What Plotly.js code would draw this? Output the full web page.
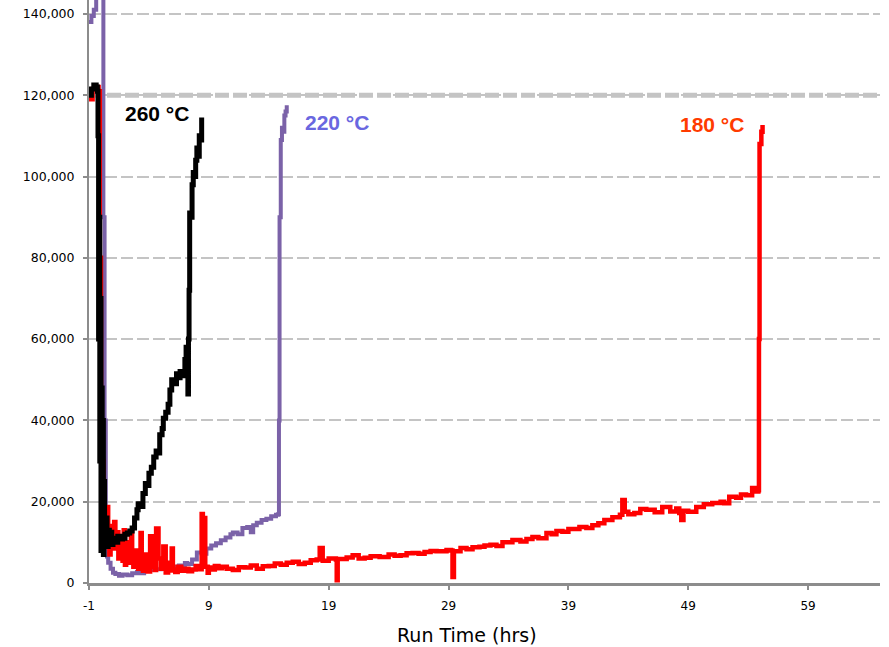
<!DOCTYPE html>
<html><head><meta charset="utf-8">
<script src="https://cdn.plot.ly/plotly-3.0.1.min.js"></script>
<style>html,body{margin:0;padding:0;background:#fff}#chart{width:889px;height:647px}</style>
</head><body><div id="chart"></div>
<script>
// 260°C series
const x260 = [-1.0,-0.8,-0.6,-0.4,-0.3,-0.25,-0.2,-0.15,-0.1,-0.05,0.0,0.05,0.1,0.15,0.2,0.25,0.3,0.4,0.5,0.6,0.7,0.8,0.9,1.0,1.2,1.4,1.6,1.8,2.0,2.2,2.4,2.6,2.8,3.0,3.1,3.3,3.5,3.7,3.8,4.0,4.2,4.4,4.6,4.7,4.9,5.1,5.2,5.4,5.6,5.75,5.9,6.1,6.3,6.5,6.6,6.8,7.0,7.1,7.2,7.25,7.3,7.35,7.4,7.5,7.6,7.7,7.8,7.9,8.0,8.1,8.2,8.3,8.4];
const y260 = [120000,121500,122500,122000,121000,110000,60000,90000,30000,70000,8000,48000,15000,40000,7000,25000,12000,16000,9000,13000,10500,12500,9500,11000,10000,11500,10800,11000,12000,12300,12800,13500,16000,18000,19500,18800,22000,24500,24000,27000,28500,31000,32500,32000,36500,38000,40500,42000,44000,47500,50000,49000,51500,50500,52000,51000,55000,58000,57000,46500,60000,72000,91000,90000,98000,101000,100000,104000,107000,105000,110000,109000,114500];

// 220°C series
const x220 = [-1.0,-0.8,-0.6,-0.4,-0.2,0.0,0.1,0.2,0.3,0.4,0.5,0.6,0.8,1.0,1.2,1.5,1.8,2.2,2.6,3.0,3.3,3.6,4.0,4.5,5.0,5.5,6.0,6.5,7.0,7.2,7.6,8.0,8.4,8.8,9.2,9.6,10.0,10.4,10.8,11.0,11.4,11.8,12.2,12.5,12.7,13.0,13.4,13.8,14.2,14.6,14.8,14.85,14.9,15.0,15.1,15.2,15.3,15.4,15.5];
const y220 = [138000,139500,141000,155000,155000,155000,150000,90000,40000,12000,6500,5000,3500,2500,2200,1800,2100,1900,2400,2700,2400,3000,3200,3400,3700,3500,4000,4300,4900,4700,5800,7500,7200,8500,9200,9800,10500,11200,12000,12400,12000,13500,13800,12500,14200,14800,15500,15800,16400,16800,17000,40000,90000,109000,112000,111000,115000,116000,117500];

// 180°C series
const x180 = [-1.0,-0.7,-0.4,-0.2,-0.1,0.0,0.2,0.4,0.5,0.6,0.7,0.8,1.0,1.1,1.2,1.35,1.45,1.6,1.8,1.9,2.0,2.1,2.3,2.5,2.6,2.7,2.9,3.1,3.3,3.4,3.5,3.7,3.9,4.1,4.3,4.5,4.6,4.8,5.0,5.2,5.4,5.6,5.8,5.9,6.0,6.2,6.4,6.7,7.0,7.3,7.6,7.9,8.2,8.4,8.5,8.7,8.9,9.0,9.2,9.5,9.8,10.1,10.5,11.0,11.5,12.0,12.5,13.0,13.5,14.0,14.5,15.0,15.5,16.0,16.5,17.0,17.5,18.0,18.25,18.5,19.0,19.6,19.67,19.75,20.5,21.0,21.5,22.0,22.5,23.25,24.0,24.5,25.0,25.5,26.0,26.5,27.0,27.5,28.0,28.83,29.2,29.33,29.45,30.0,30.5,31.0,31.58,32.0,32.5,33.0,33.5,34.33,35.0,35.5,36.0,36.5,37.17,37.6,38.0,38.5,39.0,39.92,40.5,41.0,41.5,42.0,42.67,43.3,43.5,43.7,44.0,44.5,45.0,45.5,46.2,46.83,47.5,48.0,48.25,48.42,48.6,49.0,49.67,50.3,51.0,51.7,52.0,52.42,53.0,53.4,53.83,54.33,54.6,54.85,54.9,54.95,55.1,55.2];
const y180 = [119000,121500,122000,121000,80000,30000,12000,17000,18700,11000,7000,14000,8500,15000,9000,12500,6000,11000,5500,13000,4500,10000,5000,12700,6500,4000,8000,3500,12300,5000,3000,7000,2800,11500,4000,3200,13400,6000,3500,9000,2600,5000,3100,8500,3300,2700,4000,3000,3500,2900,3300,4200,3400,17000,16000,4000,2500,3800,3300,4200,3600,4000,3500,3200,3900,3800,4300,3500,4100,4200,4800,4500,5000,5200,4700,5000,5600,5800,8600,5500,6000,5800,700,5900,6300,6800,6000,6200,6600,6400,7000,6700,6800,7300,7400,7200,7600,7900,7800,8100,8000,1500,7800,8600,8300,8800,8900,9200,9400,9100,10000,10600,10200,10800,11300,11000,12300,12000,12800,12600,13300,13800,13500,14200,14700,15500,16200,16800,20400,17500,16900,17200,18200,18000,17400,18700,17600,18300,17200,15500,17800,17500,18700,19400,19700,20000,19600,21200,21000,21800,21600,23400,22500,22800,60000,108000,111000,112700];

const tickVals = [-1,9,19,29,39,49,59];
const tickText = ['-1','9','19','29','39','49','59'];
const yTicks = [0,20000,40000,60000,80000,100000,120000,140000];
const yTickText = ['0','20,000','40,000','60,000','80,000','100,000','120,000','140,000'];

const traces = [
  {x:x220,y:y220,mode:'lines',line:{color:'#7b62a8',width:4,shape:'hv'},hoverinfo:'skip'},
  {x:x180,y:y180,mode:'lines',line:{color:'#ff0000',width:4.5,shape:'hv'},hoverinfo:'skip'},
  {x:x260,y:y260,mode:'lines',line:{color:'#000000',width:5,shape:'hv'},hoverinfo:'skip'}
];

const lblFont = 'Liberation Sans, Arial, sans-serif';
const layout = {
  width:889,height:647,
  margin:{l:89,r:9,t:0,b:64},
  paper_bgcolor:'#fff',plot_bgcolor:'#fff',
  showlegend:false,
  font:{family:'DejaVu Sans, sans-serif',color:'#000'},
  xaxis:{range:[-1,65],tickvals:tickVals,ticktext:tickText,showgrid:false,zeroline:false,
    showline:true,linecolor:'#8c8c8c',linewidth:3,ticks:'outside',ticklen:4,tickcolor:'#8c8c8c',tickwidth:2,
    ticklabelstandoff:6,tickfont:{size:12,color:'#000'}},
  yaxis:{range:[0,143420],tickvals:yTicks,ticktext:yTickText,showgrid:true,gridcolor:'#c4c4c4',gridwidth:2,
    griddash:'12px,4px',zeroline:false,showline:true,linecolor:'#8c8c8c',linewidth:2,ticks:'outside',ticklen:4,
    tickcolor:'#8c8c8c',tickwidth:2,ticklabelstandoff:6,tickfont:{size:12.5,color:'#000'}},
  shapes:[{type:'line',xref:'paper',x0:0,x1:1,yref:'y',y0:120000,y1:120000,layer:'below',
    line:{color:'#c4c4c4',width:5,dash:'14px,4px'}}],
  annotations:[
    {x:4.67,y:115600,xref:'x',yref:'y',text:'260 °C',showarrow:false,font:{size:21,color:'#000',family:lblFont,weight:'bold'}},
    {x:19.67,y:113200,xref:'x',yref:'y',text:'220 °C',showarrow:false,font:{size:21,color:'#6a67e0',family:lblFont,weight:'bold'}},
    {x:51,y:112900,xref:'x',yref:'y',text:'180 °C',showarrow:false,font:{size:21,color:'#ff3b00',family:lblFont,weight:'bold'}},
    {x:0.478,y:-0.089,xref:'paper',yref:'paper',text:'Run Time (hrs)',showarrow:false,yanchor:'middle',font:{size:19,color:'#000',family:'DejaVu Sans, sans-serif'}}
  ]
};
Plotly.newPlot('chart',traces,layout,{staticPlot:true});
</script></body></html>
